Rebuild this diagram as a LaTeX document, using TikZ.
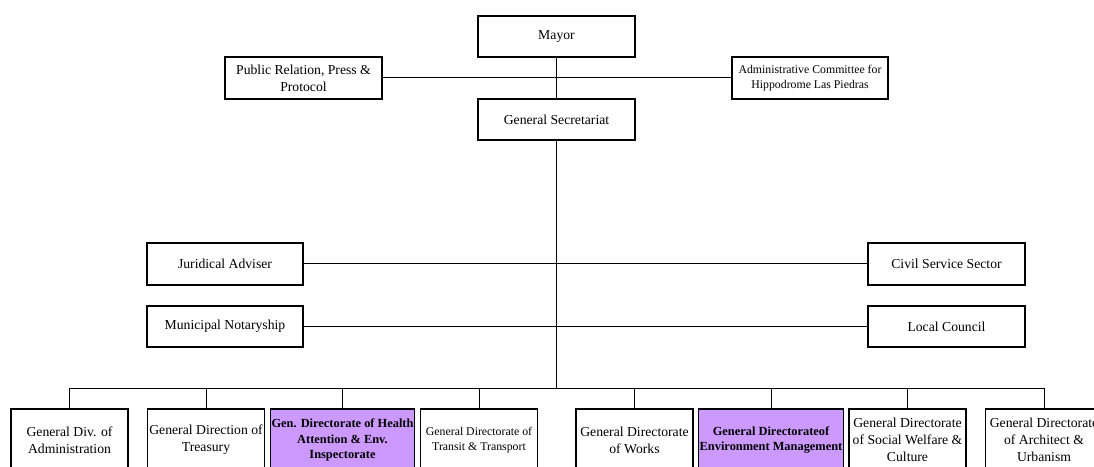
\documentclass[tikz,border=0pt]{standalone}
\usepackage{fontspec}
\setmainfont{Liberation Serif}
\usetikzlibrary{positioning}
\definecolor{lilac}{RGB}{204,153,255}

\begin{document}
\begin{tikzpicture}[x=1pt, y=1pt, node distance=136.5pt,
  block/.style={draw, line width=1.1pt, minimum width=157pt, minimum height=41pt, inner sep=1pt, align=center, font=\fontsize{13.7}{17}\selectfont},
  smalltext/.style={font=\fontsize{11.8}{15}\selectfont},
  unit/.style={block, minimum width=117pt, minimum height=62pt},
  lead/.style={unit, fill=lilac, minimum width=143pt, font=\fontsize{12.4}{15.5}\selectfont\bfseries},
  link/.style={line width=1pt}]

  \useasboundingbox (0,0) rectangle (1094,466);
  \clip (0,0) rectangle (1094,466);

  % Top of the chart
  \node[block] (Mayor) at (556.5,429.5) {Mayor};
  \node[block, below of=Mayor, node distance=83pt] (Sec) {General Secretariat};
  \node[block, minimum height=42pt] (PR) at (303.5,388) {Public Relation, Press \&\\ Protocol};
  \node[block, smalltext, minimum width=156pt, minimum height=42pt] (AC) at (810,388) {Administrative Committee for\\ Hippodrome Las Piedras};

  % Advisers
  \node[block, minimum width=156pt, minimum height=42pt] (JA) at (225,202) {Juridical Adviser};
  \node[block, minimum width=156pt, below of=JA, node distance=62.5pt] (MN) {Municipal Notaryship};
  \node[block, minimum height=42pt] (CS) at (946.5,202) {Civil Service Sector};
  \node[block, below of=CS, node distance=62.5pt] (LC) {Local Council};

  % Directorates
  \node[unit] (D1) at (69.5,26) {General Div. of\\ Administration};
  \node[unit, right of=D1] (D2) {General Direction of\\ Treasury};
  \node[lead, right of=D2] (D3) {Gen. Directorate of Health\\ Attention \& Env.\\ Inspectorate};
  \node[unit, smalltext, right of=D3] (D4) {General Directorate of\\ Transit \& Transport};
  \node[unit, right of=D4, xshift=19pt] (D5) {General Directorate\\ of Works};
  \node[lead, right of=D5] (D6) {General Directorateof\\ Environment Management};
  \node[unit, right of=D6] (D7) {General Directorate\\ of Social Welfare \&\\ Culture};
  \node[unit, right of=D7] (D8) {General Directorate\\ of Architect \&\\ Urbanism};

  \coordinate (bus) at (556.5,78);

  % Connectors
  \draw[link] (Mayor.south) -- (Sec.north);
  \draw[link] (PR.east) -- (AC.west);
  \draw[link] (Sec.south) -- (bus);
  \draw[link] (JA.east) -- (CS.west);
  \draw[link] (MN.east) -- (LC.west);
  \foreach \d in {D1,D2,D3,D4,D5,D6,D7,D8}
    \draw[link] (bus) -| (\d.north);

\end{tikzpicture}
\end{document}
